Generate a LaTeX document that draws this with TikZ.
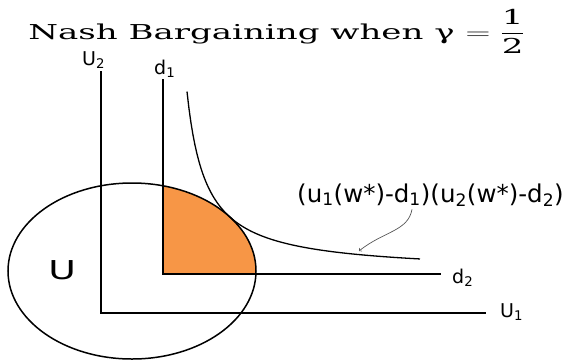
\documentclass[tikz,border=0pt]{standalone}
\usepackage{amsmath}
\usepackage{fontspec}
\usepackage{tikz}
\setmainfont{DejaVu Sans}
\newfontfamily\titlefont{DejaVu Serif}
\definecolor{regionorange}{RGB}{247, 150, 70}
\definecolor{pointergray}{RGB}{85, 85, 85}

\begin{document}
\begin{tikzpicture}[x=1pt, y=-1pt,
    axisline/.style={line width=1.8pt, line cap=rect},
    axislabel/.style={font=\fontsize{19}{22}\selectfont, inner sep=0pt, anchor=base west},
    nashcurve/.style={line width=1.3pt},
    pointer/.style={->, pointergray, line width=0.7pt}]
    \useasboundingbox (0,0) rectangle (571,360);

    % Title
    \node[font=\titlefont\fontsize{20.5}{24}\selectfont, xscale=1.66, inner sep=0pt, anchor=base west] (title) at (28,39)
        {Nash Bargaining when γ $= \displaystyle\frac{\text{1}}{\text{2}}$};

    % Feasible set U and bargaining region
    \coordinate (Ucentre) at (132,271);
    \begin{scope}
        \clip (Ucentre) ellipse [x radius=124pt, y radius=88pt];
        \fill[regionorange] (163,274) rectangle (320,140);
    \end{scope}
    \draw[line width=1.5pt] (Ucentre) ellipse [x radius=124pt, y radius=88pt];
    \node[font=\fontsize{26}{30}\selectfont, xscale=1.45, inner sep=0pt, anchor=base west] (setU) at (48,279) {U};

    % Utility axes
    \coordinate (O) at (101,313);
    \coordinate (u2top) at (101,72);
    \coordinate (u1end) at (485,313);
    \draw[axisline] (u2top) -- (O) -- (u1end);
    \node[axislabel] (u2label) at (82,65) {U\textsubscript{2}};
    \node[axislabel] (u1label) at (500,317) {U\textsubscript{1}};

    % Disagreement point
    \coordinate (D) at (163,274);
    \coordinate (d1top) at (163,80);
    \coordinate (d2end) at (440,274);
    \draw[axisline] (d1top) -- (D) -- (d2end);
    \node[axislabel] (d1label) at (154,74) {d\textsubscript{1}};
    \node[axislabel] (d2label) at (452,283) {d\textsubscript{2}};

    % Nash product level curve
    \draw[nashcurve] plot[domain=187:420, samples=120] (\x, {272.6 - 3440/(\x-168)});
    \node[font=\fontsize{24.5}{28}\selectfont, inner sep=0pt, anchor=base west] (product) at (297,202)
        {(u\textsubscript{1}(w*)-d\textsubscript{1})(u\textsubscript{2}(w*)-d\textsubscript{2})};
    \coordinate (tip) at (359,251);
    \draw[pointer] ([xshift=115pt, yshift=-3pt]product.south west) .. controls +(-4,22) and +(25,-20) .. (tip);
\end{tikzpicture}
\end{document}
